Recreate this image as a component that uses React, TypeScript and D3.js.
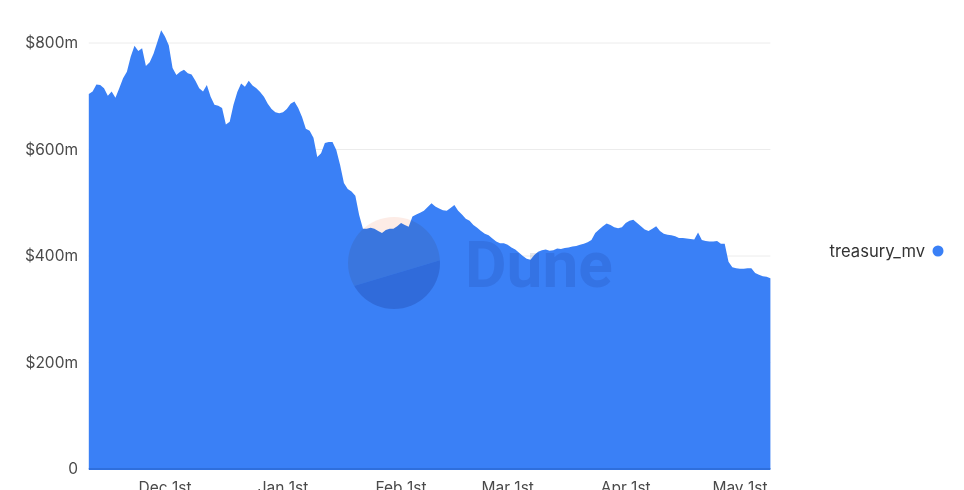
import React from "react";
import * as d3 from "d3";

// ---- data ----
const seriesName = "treasury_mv";
const startDate = new Date(2021, 10, 11); // Nov 11, 2021, daily values
const treasuryMv = [
  704, 709, 722, 721, 715, 701, 709, 697, 715, 734, 746, 774, 795, 785, 790, 757, 764, 780, 802, 824,
  812, 796, 753, 740, 746, 750, 743, 741, 729, 715, 709, 721, 699, 684, 682, 678, 647, 652, 684, 708,
  724, 718, 729, 720, 715, 708, 699, 686, 676, 670, 668, 670, 676, 686, 690, 678, 661, 639, 635, 622,
  586, 593, 612, 614, 614, 599, 571, 537, 526, 521, 513, 477, 451, 451, 453, 451, 447, 443, 449, 451,
  451, 456, 462, 458, 455, 474, 478, 481, 485, 492, 499, 493, 489, 486, 485, 490, 496, 485, 478, 470,
  466, 458, 453, 447, 442, 439, 433, 427, 424, 424, 421, 416, 412, 406, 400, 395, 393, 402, 408, 411,
  412, 410, 411, 414, 413, 415, 416, 418, 419, 421, 423, 426, 430, 443, 450, 456, 461, 458, 454, 452,
  454, 462, 466, 468, 462, 456, 450, 447, 451, 456, 447, 442, 440, 439, 437, 434, 434, 433, 432, 431,
  444, 430, 428, 427, 427, 428, 423, 423, 389, 379, 377, 376, 376, 377, 377, 368, 365, 362, 361, 358,
];
const xTickDates = [
  new Date(2021, 11, 1),
  new Date(2022, 0, 1),
  new Date(2022, 1, 1),
  new Date(2022, 2, 1),
  new Date(2022, 3, 1),
  new Date(2022, 4, 1),
];
const xTickLabels = ["Dec 1st", "Jan 1st", "Feb 1st", "Mar 1st", "Apr 1st", "May 1st"];
const yTicks = [0, 200, 400, 600, 800];
const yTickLabels = ["0", "$200m", "$400m", "$600m", "$800m"];

const W = 964;
const H = 490;
const BLUE = "#3a80f6";
const FONT = "Inter, 'Noto Sans', sans-serif";

export default function App() {
  const dates = treasuryMv.map((_, i) => d3.timeDay.offset(startDate, i));
  const data = treasuryMv.map((v, i) => ({ date: dates[i], value: v }));

  const x = d3
    .scaleTime()
    .domain([dates[0], dates[dates.length - 1]])
    .range([88.8, 770.4]);
  const y = d3.scaleLinear().domain([0, 800]).range([469, 43]);

  const area = d3
    .area<{ date: Date; value: number }>()
    .x((d) => x(d.date))
    .y0(y(0))
    .y1((d) => y(d.value))
    .curve(d3.curveLinear);

  // Dune watermark geometry
  const cx = 394;
  const cy = 263;
  const r = 46;
  const slope = -0.3;
  const lineY = (px: number) => 274 + slope * (px - cx);

  return (
    <div style={{ position: "fixed", left: 0, top: 0, width: W, height: H, background: "#fff" }}>
      <svg width={W} height={H} style={{ display: "block" }}>
        <defs>
          <clipPath id="logoClip">
            <circle cx={cx} cy={cy} r={r} />
          </clipPath>
        </defs>
        {/* grid */}
        {yTicks.slice(1).map((t) => (
          <line
            key={t}
            x1={x.range()[0]}
            x2={x.range()[1]}
            y1={y(t)}
            y2={y(t)}
            stroke="#ececec"
            strokeWidth={1}
          />
        ))}
        {/* area */}
        <path d={area(data) || ""} fill={BLUE} />
        <line
          x1={x.range()[0]}
          x2={x.range()[1]}
          y1={y(0)}
          y2={y(0)}
          stroke="#2f6fdc"
          strokeWidth={2}
        />
        {/* watermark */}
        <g clipPath="url(#logoClip)" style={{ mixBlendMode: "multiply" }} opacity={0.2}>
          <polygon
            points={`${cx - r},${cy - r} ${cx + r},${cy - r} ${cx + r},${lineY(cx + r)} ${cx - r},${lineY(cx - r)}`}
            fill="#f4a07e"
          />
          <polygon
            points={`${cx - r},${lineY(cx - r)} ${cx + r},${lineY(cx + r)} ${cx + r},${cy + r} ${cx - r},${cy + r}`}
            fill="#1c2a6b"
          />
        </g>
        <text
          x={465}
          y={287}
          fontFamily="Roboto, sans-serif"
          fontWeight={700}
          fontSize={64}
          fill="#1c2a6b"
          opacity={0.12}
          style={{ mixBlendMode: "multiply" }}
        >
          Dune
        </text>
        {/* y axis labels */}
        {yTicks.map((t, i) => (
          <text
            key={t}
            x={78}
            y={y(t)}
            dy="0.35em"
            textAnchor="end"
            fontFamily={FONT}
            fontSize={15.5}
            fill="#4a4a4a"
          >
            {yTickLabels[i]}
          </text>
        ))}
        {/* x axis labels */}
        {xTickDates.map((d, i) => (
          <text
            key={i}
            x={x(d)}
            y={493}
            textAnchor="middle"
            fontFamily={FONT}
            fontSize={15.5}
            fill="#4a4a4a"
          >
            {xTickLabels[i]}
          </text>
        ))}
        {/* legend */}
        <text
          x={925}
          y={251}
          dy="0.35em"
          textAnchor="end"
          fontFamily={FONT}
          fontSize={16.6}
          fill="#333"
        >
          {seriesName}
        </text>
        <circle cx={938} cy={251} r={5.5} fill={BLUE} />
      </svg>
    </div>
  );
}
